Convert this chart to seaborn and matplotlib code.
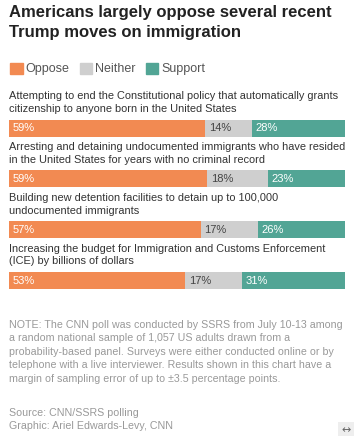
import matplotlib
matplotlib.use('Agg')
import matplotlib.pyplot as plt
from matplotlib.patches import Patch
import seaborn as sns
import pandas as pd

questions = [
    "Attempting to end the Constitutional policy that automatically grants\ncitizenship to anyone born in the United States",
    "Arresting and detaining undocumented immigrants who have resided\nin the United States for years with no criminal record",
    "Building new detention facilities to detain up to 100,000\nundocumented immigrants",
    "Increasing the budget for Immigration and Customs Enforcement\n(ICE) by billions of dollars",
]
oppose = [59, 59, 57, 53]
neither = [14, 18, 17, 17]
support = [28, 23, 26, 31]

c_opp = '#F28A52'
c_nei = '#CFCFCF'
c_sup = '#52A595'

sns.set_style('white')
plt.rcParams['font.family'] = ['Liberation Sans', 'DejaVu Sans']

df = pd.DataFrame({'q': [str(i) for i in range(len(questions))],
                   'opp': oppose, 'nei': neither, 'sup': support})
df['tot'] = df['opp'] + df['nei'] + df['sup']
df['c1'] = df['opp'] / df['tot']
df['c2'] = (df['opp'] + df['nei']) / df['tot']
df['c3'] = 1.0

W, H = 355, 436
fig = plt.figure(figsize=(W / 100, H / 100), dpi=100)
ax = fig.add_axes([9 / W, 1 - 306 / H, 336 / W, (306 - 102.6) / H])

for col, c in [('c3', c_sup), ('c2', c_nei), ('c1', c_opp)]:
    sns.barplot(data=df, x=col, y='q', orient='h', color=c, width=0.335,
                errorbar=None, saturation=1, linewidth=0, ax=ax)

ax.set_xlim(0, 1)
ax.set_ylim(3.5, -0.5)
ax.set_xlabel('')
ax.set_ylabel('')
ax.set_xticks([])
ax.set_yticks([])
sns.despine(ax=ax, left=True, bottom=True)

pad = 0.012
for i, r in df.iterrows():
    ax.text(pad, i, f"{r['opp']}%", color='white', fontsize=8, va='center')
    ax.text(r['c1'] + pad, i, f"{r['nei']}%", color='#444444', fontsize=8, va='center')
    ax.text(r['c2'] + pad, i, f"{r['sup']}%", color='white', fontsize=8, va='center')
    ax.text(0, i - 0.5, questions[i], color='#333333', fontsize=7.9,
            va='center', ha='left', linespacing=1.3)

fig.text(9 / W, 1 - 5 / H, "Americans largely oppose several recent\nTrump moves on immigration",
         fontsize=12, fontweight='bold', color='#222222', va='top', linespacing=1.38)

handles = [Patch(color=c_opp, label='Oppose'), Patch(color=c_nei, label='Neither'),
           Patch(color=c_sup, label='Support')]
leg = fig.legend(handles=handles, loc='center left', bbox_to_anchor=(5 / W, 1 - 69 / H),
                 ncol=3, frameon=False, fontsize=9, handlelength=1.0, handleheight=1.0,
                 handletextpad=0.25, columnspacing=0.8, borderaxespad=0)
for t in leg.get_texts():
    t.set_color('#555555')

note = ("NOTE: The CNN poll was conducted by SSRS from July 10-13 among\n"
        "a random national sample of 1,057 US adults drawn from a\n"
        "probability-based panel. Surveys were either conducted online or by\n"
        "telephone with a live interviewer. Results shown in this chart have a\n"
        "margin of sampling error of up to \u00b13.5 percentage points.")
fig.text(9 / W, 1 - 319.5 / H, note, fontsize=7.7, color='#999999', va='top', linespacing=1.45)
fig.text(9 / W, 1 - 407.5 / H, "Source: CNN/SSRS polling\nGraphic: Ariel Edwards-Levy, CNN",
         fontsize=7.7, color='#999999', va='top', linespacing=1.45)
fig.text(346 / W, 1 - 430 / H, "\u2194", fontsize=8, color='#666666', ha='center', va='center',
         family=['DejaVu Sans'],
         bbox=dict(boxstyle='square,pad=0.3', fc='#EEEEEE', ec='none'))

fig.savefig('out.png', dpi=100)
